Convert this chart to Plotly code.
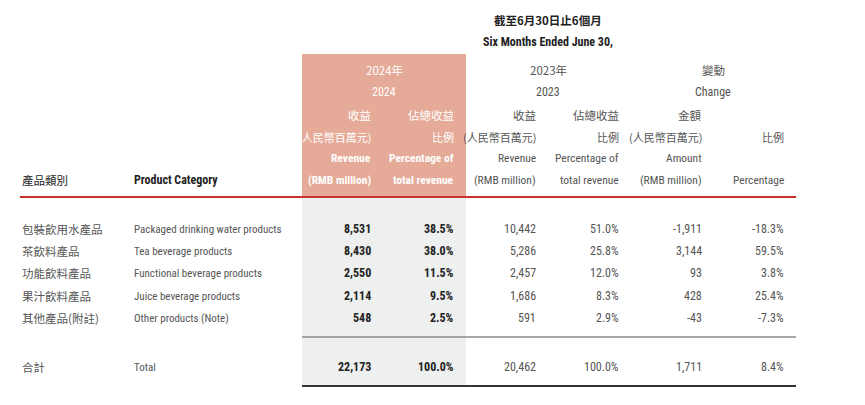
import plotly.graph_objects as go

# ---------------- data ----------------
cn_categories = ["包裝飲用水產品", "茶飲料產品", "功能飲料產品", "果汁飲料產品", "其他產品(附註)"]
en_categories = ["Packaged drinking water products", "Tea beverage products",
                 "Functional beverage products", "Juice beverage products", "Other products (Note)"]
rev_2024 = [8531, 8430, 2550, 2114, 548]
pct_2024 = [38.5, 38.0, 11.5, 9.5, 2.5]
rev_2023 = [10442, 5286, 2457, 1686, 591]
pct_2023 = [51.0, 25.8, 12.0, 8.3, 2.9]
chg_amt = [-1911, 3144, 93, 428, -43]
chg_pct = [-18.3, 59.5, 3.8, 25.4, -7.3]
total_cn, total_en = "合計", "Total"
totals = [22173, 100.0, 20462, 100.0, 1711, 8.4]

title_cn = "截至6月30日止6個月"
title_en = "Six Months Ended June 30,"
group_cn = ["2024年", "2023年", "變動"]
group_en = ["2024", "2023", "Change"]
col_h1 = ["收益", "佔總收益", "收益", "佔總收益", "金額", ""]
col_h2 = ["(人民幣百萬元)", "比例", "(人民幣百萬元)", "比例", "(人民幣百萬元)", "比例"]
col_h3 = ["Revenue", "Percentage of", "Revenue", "Percentage of", "Amount", ""]
col_h4 = ["(RMB million)", "total revenue", "(RMB million)", "total revenue", "(RMB million)", "Percentage"]
label_cn, label_en = "產品類別", "Product Category"

# ---------------- layout constants ----------------
W, H = 865, 405
OFF = 8  # page body margin compensation
FONT_EN = "Liberation Sans Narrow, Arial Narrow, Roboto Condensed, Roboto, Arial, sans-serif"
FONT_CN = "Noto Sans CJK TC, Noto Sans CJK SC, sans-serif"
FS = 11.5
FS_LBL = 11
FS_CN = 11.5
col_right = [373, 456, 538, 621, 704, 786]
group_center = [384, 548, 713]
hdr_y = [70, 92, 115, 137, 158, 180]
row_y = [229, 251, 273, 296, 318]
total_y = 367
x_cn, x_en = 20, 132
grey_txt = "#555555"
dark_txt = "#222222"
salmon = "#e6aa98"
body_grey = "#eeefef"

fig = go.Figure()
fig.add_trace(go.Scatter(x=[OFF, W + OFF], y=[OFF, H + OFF], mode="markers",
                         marker=dict(opacity=0), hoverinfo="skip", showlegend=False))

shapes = [
    dict(type="rect", x0=302, x1=466, y0=54, y1=198, fillcolor=salmon, line_width=0, layer="below"),
    dict(type="rect", x0=302, x1=466, y0=198, y1=386, fillcolor=body_grey, line_width=0, layer="below"),
    dict(type="line", x0=20, x1=796, y0=197, y1=197, line=dict(color="#c8322f", width=2)),
    dict(type="line", x0=302, x1=796, y0=337, y1=337, line=dict(color="#8a8a8a", width=1.5)),
    dict(type="line", x0=302, x1=796, y0=386, y1=386, line=dict(color="#333333", width=2)),
]

ann = []


def add(text, x, y, anchor="right", color=grey_txt, family=FONT_EN, size=FS, bold=False):
    if not text:
        return
    t = f"<b>{text}</b>" if bold else text
    ann.append(dict(text=t, x=x, y=y, xref="x", yref="y", xanchor=anchor, yanchor="middle",
                    showarrow=False, font=dict(family=family, size=size, color=color)))


def fmt_int(v):
    return f"{v:,}"


def fmt_pct(v):
    return f"{v:.1f}%"


# titles
add(title_cn, 548, 20, "center", dark_txt, FONT_CN, FS_CN, True)
add(title_en, 548, 42, "center", dark_txt, FONT_EN, 12, True)

# group headers
for i, (gc, ge) in enumerate(zip(group_cn, group_en)):
    c = "white" if i == 0 else grey_txt
    add(gc, group_center[i], hdr_y[0], "center", c, FONT_CN, FS_CN)
    add(ge, group_center[i], hdr_y[1], "center", c, FONT_EN, 12)

# column headers
for j in range(6):
    c = "white" if j < 2 else grey_txt
    b = j < 2
    add(col_h1[j], col_right[j], hdr_y[2], "right", c, FONT_CN, FS_CN)
    add(col_h2[j], col_right[j], hdr_y[3], "right", c, FONT_CN, 11)
    add(col_h3[j], col_right[j], hdr_y[4], "right", c, FONT_EN, FS, b)
    add(col_h4[j], col_right[j], hdr_y[5], "right", c, FONT_EN, FS, b)

add(label_cn, x_cn, hdr_y[5], "left", dark_txt, FONT_CN, FS_CN)
add(label_en, x_en, hdr_y[5], "left", dark_txt, FONT_EN, 12, True)

# body rows
for i in range(len(cn_categories)):
    y = row_y[i]
    add(cn_categories[i], x_cn, y, "left", grey_txt, FONT_CN, FS_CN)
    add(en_categories[i], x_en, y, "left", grey_txt, FONT_EN, FS_LBL)
    vals = [fmt_int(rev_2024[i]), fmt_pct(pct_2024[i]), fmt_int(rev_2023[i]),
            fmt_pct(pct_2023[i]), fmt_int(chg_amt[i]), fmt_pct(chg_pct[i])]
    for j, v in enumerate(vals):
        add(v, col_right[j], y, "right", dark_txt if j < 2 else grey_txt, FONT_EN, 12, j < 2)

# total row
add(total_cn, x_cn, total_y, "left", grey_txt, FONT_CN, FS_CN)
add(total_en, x_en, total_y, "left", grey_txt, FONT_EN, FS_LBL)
tvals = [fmt_int(totals[0]), fmt_pct(totals[1]), fmt_int(totals[2]),
         fmt_pct(totals[3]), fmt_int(totals[4]), fmt_pct(totals[5])]
for j, v in enumerate(tvals):
    add(v, col_right[j], total_y, "right", dark_txt if j < 2 else grey_txt, FONT_EN, 12, j < 2)

fig.update_layout(
    width=W, height=H, margin=dict(l=0, r=0, t=0, b=0),
    paper_bgcolor="white", plot_bgcolor="white",
    xaxis=dict(range=[OFF, W + OFF], visible=False, fixedrange=True),
    yaxis=dict(range=[H + OFF, OFF], visible=False, fixedrange=True),
    shapes=shapes, annotations=ann, showlegend=False,
)
fig.write_html("out.html")
